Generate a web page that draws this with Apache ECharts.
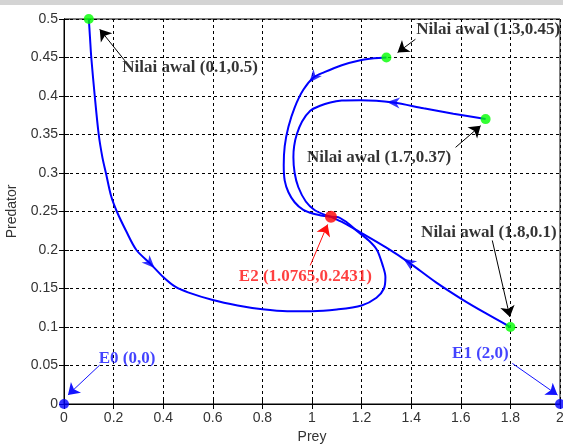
<!DOCTYPE html>
<html><head><meta charset="utf-8">
<script src="https://cdn.jsdelivr.net/npm/echarts@6/dist/echarts.min.js"></script>
<style>html,body{margin:0;padding:0;background:#fff}#c{width:563px;height:445px}</style>
</head><body><div id="c"></div>
<script>
// ---- data ----
const xTicks = [0,0.2,0.4,0.6,0.8,1,1.2,1.4,1.6,1.8,2];
const yTicks = [0,0.05,0.1,0.15,0.2,0.25,0.3,0.35,0.4,0.45,0.5];

const trajA_prey = [0.1,0.105,0.11,0.124,0.14,0.155,0.169,0.19,0.213,0.25,0.292,0.347,0.40,0.45,0.5,0.6,0.7,0.8,0.9,1.0,1.1,1.2,1.26,1.29,1.296,1.285,1.262,1.23,1.18,1.14,1.1,1.0765];
const trajA_pred = [0.5,0.475,0.45,0.4,0.35,0.32,0.3,0.27,0.25,0.225,0.2,0.1826,0.165,0.152,0.145,0.135,0.128,0.123,0.1205,0.1205,0.1227,0.128,0.138,0.15,0.165,0.18,0.2,0.212,0.225,0.236,0.243,0.2431];

const trajB_prey = [1.3,1.25,1.195,1.12,1.05,1.006,0.965,0.93,0.905,0.89,0.886,0.89,0.905,0.93,0.965,1.006,1.05,1.0765];
const trajB_pred = [0.45,0.449,0.4465,0.44,0.431,0.424,0.408,0.385,0.36,0.335,0.31,0.29,0.275,0.262,0.252,0.247,0.244,0.2431];

const trajC_prey = [1.7,1.57,1.45,1.328,1.195,1.12,1.074,1.03,0.993,0.96,0.939,0.928,0.925,0.93,0.945,0.975,1.01,1.05,1.0765];
const trajC_pred = [0.37,0.377,0.384,0.3916,0.3946,0.394,0.3916,0.387,0.381,0.367,0.3506,0.335,0.3203,0.30,0.2815,0.263,0.252,0.246,0.2431];

const trajD_prey = [1.8,1.7,1.61,1.5,1.39,1.3,1.2,1.13,1.0765];
const trajD_pred = [0.1,0.118,0.135,0.158,0.184,0.203,0.222,0.235,0.2431];

const initPrey = [0.1,1.3,1.7,1.8];
const initPred = [0.5,0.45,0.37,0.1];
const e2 = [1.0765,0.2431];
const boundaryEq = [[0,0],[2,0]];

const initLabels = ['Nilai awal (0.1,0.5)','Nilai awal (1.3,0.45)','Nilai awal (1.7,0.37)','Nilai awal (1.8,0.1)'];
const eqLabels = ['E0 (0,0)','E1 (2,0)','E2 (1.0765,0.2431)'];

// ---- build ----
const zip = (a,b)=>a.map((v,i)=>[v,b[i]]);
const trajs = [zip(trajA_prey,trajA_pred),zip(trajB_prey,trajB_pred),zip(trajC_prey,trajC_pred),zip(trajD_prey,trajD_pred)];
// direction arrows: index into each trajectory
const arrowIdx = [11,5,3,4];

// annotation layout (text anchor, arrow tail, arrow tip) in axis units
const annInit = [
  {t:[0.235,0.437], a:[0.246,0.4456], b:[0.144,0.4866]},
  {t:[1.42,0.4867], a:[1.417,0.4737], b:[1.345,0.4564]},
  {t:[0.98,0.3203], a:[1.579,0.3333], b:[1.68,0.3614]},
  {t:[1.44,0.2228], a:[1.727,0.2124], b:[1.798,0.113]}
];
const annEq = [
  {t:[0.14,0.0592], a:[0.144,0.0505], b:[0.016,0.0117], c:'#1414ff'},
  {t:[1.565,0.0648], a:[1.808,0.0527], b:[1.99,0.0117], c:'#1414ff'},
  {t:[0.705,0.1658], a:[0.993,0.18], b:[1.063,0.2332], c:'#ff1010'}
];

const serifFont = {fontFamily:'Liberation Serif', fontWeight:'bold', fontSize:17};
const arrowHead = 'path://M0,0 L6,14 L0,10 L-6,14 Z';

const chart = echarts.init(document.getElementById('c'), null, {renderer:'canvas'});

const series = [];
trajs.forEach((t,i)=>{
  series.push({type:'line', data:t, smooth:0.3, symbol:'none', lineStyle:{color:'#0000ff', width:2}, z:3, clip:false});
});
series.push({type:'scatter', id:'dirArrows', data: trajs.map((t,i)=>t[arrowIdx[i]]), symbol:arrowHead, symbolSize:[11,13],
  itemStyle:{color:'#0000ff'}, z:4});
// annotation arrows
series.push({type:'lines', coordinateSystem:'cartesian2d', data: annInit.map(a=>({coords:[a.a,a.b]})),
  symbol:['none','arrow'], symbolSize:11, lineStyle:{color:'#000', width:1, opacity:1}, z:5});
annEq.forEach(a=>{
  series.push({type:'lines', coordinateSystem:'cartesian2d', data:[{coords:[a.a,a.b]}],
    symbol:['none','arrow'], symbolSize:11, lineStyle:{color:a.c, width:1, opacity:1}, z:5});
});
// markers
series.push({type:'scatter', data: zip(initPrey,initPred), symbolSize:10, itemStyle:{color:'#00ff00'}, z:6, clip:false});
series.push({type:'scatter', data:[e2], symbolSize:12, itemStyle:{color:'#ff0000'}, z:6, clip:false});
series.push({type:'scatter', data:boundaryEq, symbolSize:10, itemStyle:{color:'#0000ff'}, z:6, clip:false});
// labels
series.push({type:'scatter', data: annInit.map((a,i)=>({value:a.t, name:initLabels[i]})), symbolSize:0, z:7, clip:false,
  label:{show:true, position:'right', distance:0, formatter:p=>p.name, color:'#000', ...serifFont}});
series.push({type:'scatter', data: annEq.map((a,i)=>({value:a.t, name:eqLabels[i], label:{color:a.c}})), symbolSize:0, z:7, clip:false,
  label:{show:true, position:'right', distance:0, formatter:p=>p.name, ...serifFont}});

const axisLabel = {fontFamily:'Liberation Sans', fontSize:14, color:'#333'};
const option = {
  backgroundColor:'#fff',
  animation:false,
  graphic:[{type:'rect', shape:{x:0,y:0,width:563,height:5}, style:{fill:'#d4d4d4'}, z:-1}],
  grid:{left:64, right:3, top:19, bottom:41, outerBoundsMode:'none', containLabel:false,
    show:true, borderColor:'#000', borderWidth:1, backgroundColor:'#fff'},
  xAxis:[{type:'value', min:0, max:2, interval:0.2,
    name:'Prey', nameLocation:'middle', nameGap:25, nameTextStyle:{fontFamily:'Liberation Sans', fontSize:14, color:'#333'},
    axisLine:{lineStyle:{color:'#000'}}, axisTick:{inside:true, length:5, lineStyle:{color:'#000'}},
    axisLabel:{...axisLabel, margin:7, formatter:v=>String(+v.toFixed(2))},
    splitLine:{show:true, lineStyle:{color:'#000', type:[3,3], width:1}}},
    {type:'value', position:'top', min:0, max:2, interval:0.2, axisLine:{lineStyle:{color:'#000'}},
    axisTick:{inside:true, length:5, lineStyle:{color:'#000'}}, axisLabel:{show:false}, splitLine:{show:false}}],
  yAxis:[{type:'value', min:0, max:0.5, interval:0.05,
    name:'Predator', nameLocation:'middle', nameGap:45, nameTextStyle:{fontFamily:'Liberation Sans', fontSize:14, color:'#333'},
    axisLine:{lineStyle:{color:'#000'}}, axisTick:{inside:true, length:5, lineStyle:{color:'#000'}},
    axisLabel:{...axisLabel, margin:6, formatter:v=>String(+v.toFixed(2))},
    splitLine:{show:true, lineStyle:{color:'#000', type:[3,3], width:1}}},
    {type:'value', position:'right', min:0, max:0.5, interval:0.05, axisLine:{lineStyle:{color:'#000'}},
    axisTick:{inside:true, length:5, lineStyle:{color:'#000'}}, axisLabel:{show:false}, splitLine:{show:false}}],
  series: series
};
chart.setOption(option);

// orient the direction arrows along each curve
const rot = trajs.map((t,i)=>{
  const p = chart.convertToPixel({gridIndex:0}, t[arrowIdx[i]]);
  const q = chart.convertToPixel({gridIndex:0}, t[arrowIdx[i]+1]);
  const ang = Math.atan2(-(q[1]-p[1]), q[0]-p[0])*180/Math.PI;
  return ang - 90;
});
chart.setOption({series:[{id:'dirArrows', data: trajs.map((t,i)=>({value:t[arrowIdx[i]], symbolRotate:rot[i]}))}]});
</script>
</body></html>
